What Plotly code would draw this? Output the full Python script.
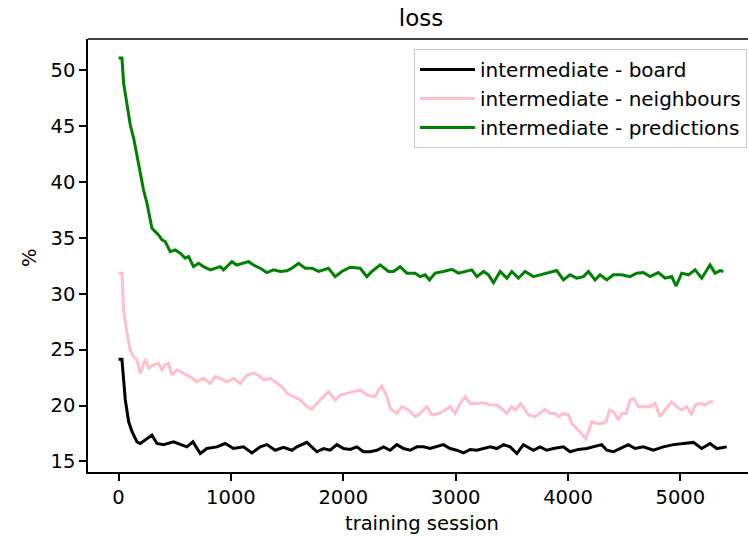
import plotly.graph_objects as go

# ---- data ----
board_x = [0, 30, 60, 90, 120, 164, 193, 237, 297, 342,
           400, 489, 549, 608, 662, 727, 786, 875, 949, 1023,
           1112, 1187, 1261, 1320, 1394, 1468, 1543, 1587, 1676, 1735,
           1765, 1824, 1883, 1943, 2002, 2061, 2120, 2180, 2239, 2298,
           2358, 2417, 2477, 2536, 2595, 2655, 2714, 2773, 2832, 2891,
           2951, 3010, 3070, 3129, 3189, 3248, 3307, 3367, 3426, 3485,
           3545, 3603, 3663, 3692, 3752, 3811, 3870, 3959, 4018, 4093,
           4167, 4226, 4300, 4345, 4404, 4463, 4537, 4597, 4671, 4760,
           4849, 4938, 5027, 5116, 5190, 5264, 5324, 5413]
board_y = [24.14, 24.14, 20.5, 18.54, 17.65, 16.75, 16.6, 16.9, 17.35, 16.6,
           16.5, 16.75, 16.5, 16.3, 16.75, 15.71, 16.15, 16.3, 16.6, 16.15,
           16.3, 15.76, 16.3, 16.5, 16.0, 16.25, 16.0, 16.3, 16.7, 16.15,
           15.86, 16.15, 16.0, 16.5, 16.15, 16.07, 16.3, 15.86, 15.86, 16.0,
           16.3, 16.0, 16.5, 16.15, 16.0, 16.3, 16.3, 16.15, 16.36, 16.5,
           16.15, 16.0, 15.76, 16.07, 16.0, 16.15, 16.3, 16.15, 16.5, 16.3,
           15.7, 16.5, 16.15, 16.0, 16.3, 16.0, 16.15, 16.3, 15.86, 16.07,
           16.15, 16.3, 16.5, 16.0, 15.86, 16.15, 16.5, 16.15, 16.3, 16.0,
           16.3, 16.5, 16.6, 16.7, 16.15, 16.6, 16.15, 16.3]

neigh_x = [0, 30, 45, 75, 104, 134, 164, 193, 208, 238,
           267, 312, 356, 386, 415, 445, 475, 520, 578, 638,
           697, 756, 816, 860, 905, 964, 1023, 1083, 1142, 1201,
           1246, 1290, 1350, 1409, 1454, 1498, 1557, 1617, 1676, 1721,
           1765, 1824, 1868, 1928, 1972, 2032, 2091, 2150, 2210, 2284,
           2313, 2343, 2388, 2417, 2477, 2521, 2580, 2640, 2684, 2744,
           2788, 2847, 2907, 2951, 2996, 3040, 3085, 3129, 3189, 3248,
           3307, 3367, 3426, 3455, 3500, 3530, 3580, 3618, 3648, 3707,
           3751, 3796, 3841, 3885, 3915, 3959, 4004, 4034, 4078, 4123,
           4158, 4182, 4212, 4256, 4300, 4339, 4368, 4404, 4449, 4478,
           4517, 4552, 4582, 4626, 4671, 4730, 4775, 4819, 4864, 4923,
           4968, 5012, 5057, 5101, 5131, 5175, 5220, 5264, 5294]
neigh_y = [31.84, 31.84, 28.55, 26.46, 24.97, 24.37, 24.07, 22.88, 23.3, 24.14,
           23.35, 23.63, 23.78, 23.2, 23.63, 23.78, 22.73, 23.2, 22.88, 22.58,
           22.13, 22.43, 21.98, 22.58, 22.43, 22.13, 22.43, 21.98, 22.73, 22.88,
           22.73, 22.28, 22.43, 21.98, 21.68, 21.09, 20.79, 20.5, 19.9, 19.66,
           20.19, 20.79, 21.24, 20.49, 20.94, 21.09, 21.24, 21.39, 20.94, 20.79,
           21.39, 21.74, 20.79, 19.74, 19.29, 19.9, 19.6, 19.0, 19.29, 19.89,
           19.15, 19.29, 19.6, 19.9, 19.29, 20.19, 20.79, 20.19, 20.19, 20.25,
           20.05, 20.05, 19.6, 19.29, 19.9, 19.6, 20.19, 19.6, 19.15, 19.0,
           19.29, 19.66, 19.29, 19.29, 19.0, 19.29, 19.15, 18.4, 17.95, 17.5,
           17.06, 17.65, 18.55, 18.4, 18.4, 18.55, 19.59, 19.44, 18.7, 19.29,
           19.29, 20.49, 20.64, 19.89, 19.89, 19.89, 20.19, 19.0, 19.6, 20.34,
           19.89, 19.6, 19.89, 19.15, 20.04, 20.19, 20.04, 20.34, 20.34]

pred_x = [0, 30, 45, 75, 104, 134, 164, 193, 222, 253,
          276, 297, 327, 356, 386, 415, 460, 504, 549, 593,
          623, 667, 712, 756, 816, 860, 905, 934, 1009, 1053,
          1112, 1157, 1201, 1261, 1320, 1379, 1439, 1498, 1543, 1602,
          1661, 1721, 1780, 1868, 1928, 1987, 2061, 2150, 2210, 2254,
          2328, 2402, 2447, 2506, 2566, 2640, 2684, 2729, 2767, 2818,
          2891, 2966, 3025, 3085, 3144, 3189, 3248, 3292, 3337, 3396,
          3456, 3500, 3559, 3618, 3692, 3752, 3826, 3900, 3959, 4018,
          4078, 4137, 4182, 4241, 4285, 4345, 4404, 4478, 4552, 4612,
          4671, 4730, 4804, 4864, 4923, 4962, 5012, 5072, 5131, 5190,
          5264, 5309, 5353, 5383]
pred_y = [51.11, 51.11, 48.87, 46.77, 45.13, 43.94, 42.44, 40.8, 39.31, 38.11,
          36.77, 35.87, 35.57, 35.27, 34.83, 34.68, 33.78, 33.93, 33.63, 33.19,
          33.34, 32.43, 32.73, 32.43, 32.14, 32.29, 32.43, 32.14, 32.88, 32.58,
          32.73, 32.88, 32.58, 32.29, 31.9, 32.14, 32.0, 32.07, 32.29, 32.73,
          32.29, 32.29, 32.0, 32.29, 31.54, 32.0, 32.38, 32.29, 31.54, 32.0,
          32.59, 32.0, 32.0, 32.43, 31.85, 31.85, 31.54, 31.7, 31.24, 31.85,
          32.0, 32.2, 31.85, 32.0, 32.14, 31.54, 32.0, 31.7, 31.0, 32.0,
          31.4, 32.0, 31.4, 32.0, 31.54, 31.7, 31.9, 32.08, 31.24, 31.7,
          31.4, 31.54, 32.0, 31.24, 31.7, 31.24, 31.7, 31.7, 31.54, 31.85,
          31.9, 31.54, 31.9, 31.4, 31.54, 30.7, 31.85, 31.7, 32.14, 31.4,
          32.59, 31.85, 32.08, 32.0]

series_names = ["intermediate - board", "intermediate - neighbours", "intermediate - predictions"]
series_colors = ["#000000", "#ffc0cb", "#008000"]
x_ticks = [0, 1000, 2000, 3000, 4000, 5000]
y_ticks = [15, 20, 25, 30, 35, 40, 45, 50]

FONT = "DejaVu Sans"
W, H = 748, 539
L, R, T, B = 88, 0, 39, 67

fig = go.Figure()
for xs, ys, name, col in zip([board_x, neigh_x, pred_x], [board_y, neigh_y, pred_y],
                             series_names, series_colors):
    fig.add_trace(go.Scatter(x=xs, y=ys, mode="lines", name=name,
                             line=dict(color=col, width=3)))

fig.update_layout(
    width=W, height=H,
    margin=dict(l=L, r=R, t=T, b=B),
    paper_bgcolor="white", plot_bgcolor="white",
    font=dict(family=FONT, size=19, color="#000000"),
    showlegend=True,
    legend=dict(x=0.9985, y=0.977, xanchor="right", yanchor="top",
                bgcolor="rgba(255,255,255,0.8)", bordercolor="#cccccc", borderwidth=1,
                font=dict(family=FONT, size=20, color="#000000"),
                itemwidth=55, tracegroupgap=0),
    title=dict(text="loss", x=421 / W, xanchor="center",
               y=1 - 18 / H, yref="container", yanchor="middle",
               font=dict(family=FONT, size=23, color="#000000")),
)

fig.update_xaxes(range=[-272, 5602], tickmode="array", tickvals=x_ticks,
                 ticktext=[str(v) for v in x_ticks],
                 ticks="outside", ticklen=7, tickwidth=1.5, tickcolor="#000",
                 showgrid=False, zeroline=False, showline=True, linecolor="#000",
                 linewidth=1.5, mirror=False, tickfont=dict(size=19.5))
fig.update_yaxes(range=[14.05, 52.81], tickmode="array", tickvals=y_ticks,
                 ticktext=[str(v) for v in y_ticks],
                 ticks="outside", ticklen=7, tickwidth=1.5, tickcolor="#000",
                 showgrid=False, zeroline=False, showline=True, linecolor="#000",
                 linewidth=1.5, mirror=False, tickfont=dict(size=19.5))

# top spine (axes frame top)
fig.add_shape(type="line", xref="paper", yref="paper", x0=0, x1=1, y0=1, y1=1,
              line=dict(color="#000", width=1.5))

# axis labels
fig.add_annotation(text="training session", xref="paper", yref="paper",
                   x=(422 - L) / (W - L), y=-(523 - (H - B)) / (H - T - B),
                   xanchor="center", yanchor="middle", showarrow=False,
                   font=dict(family=FONT, size=19.5, color="#000"))
fig.add_annotation(text="%", xref="paper", yref="paper",
                   x=-(L - 29) / (W - L), y=(H - B - 257) / (H - T - B),
                   xanchor="center", yanchor="middle", showarrow=False, textangle=-90,
                   font=dict(family=FONT, size=19.5, color="#000"))

fig.write_html("out.html")
